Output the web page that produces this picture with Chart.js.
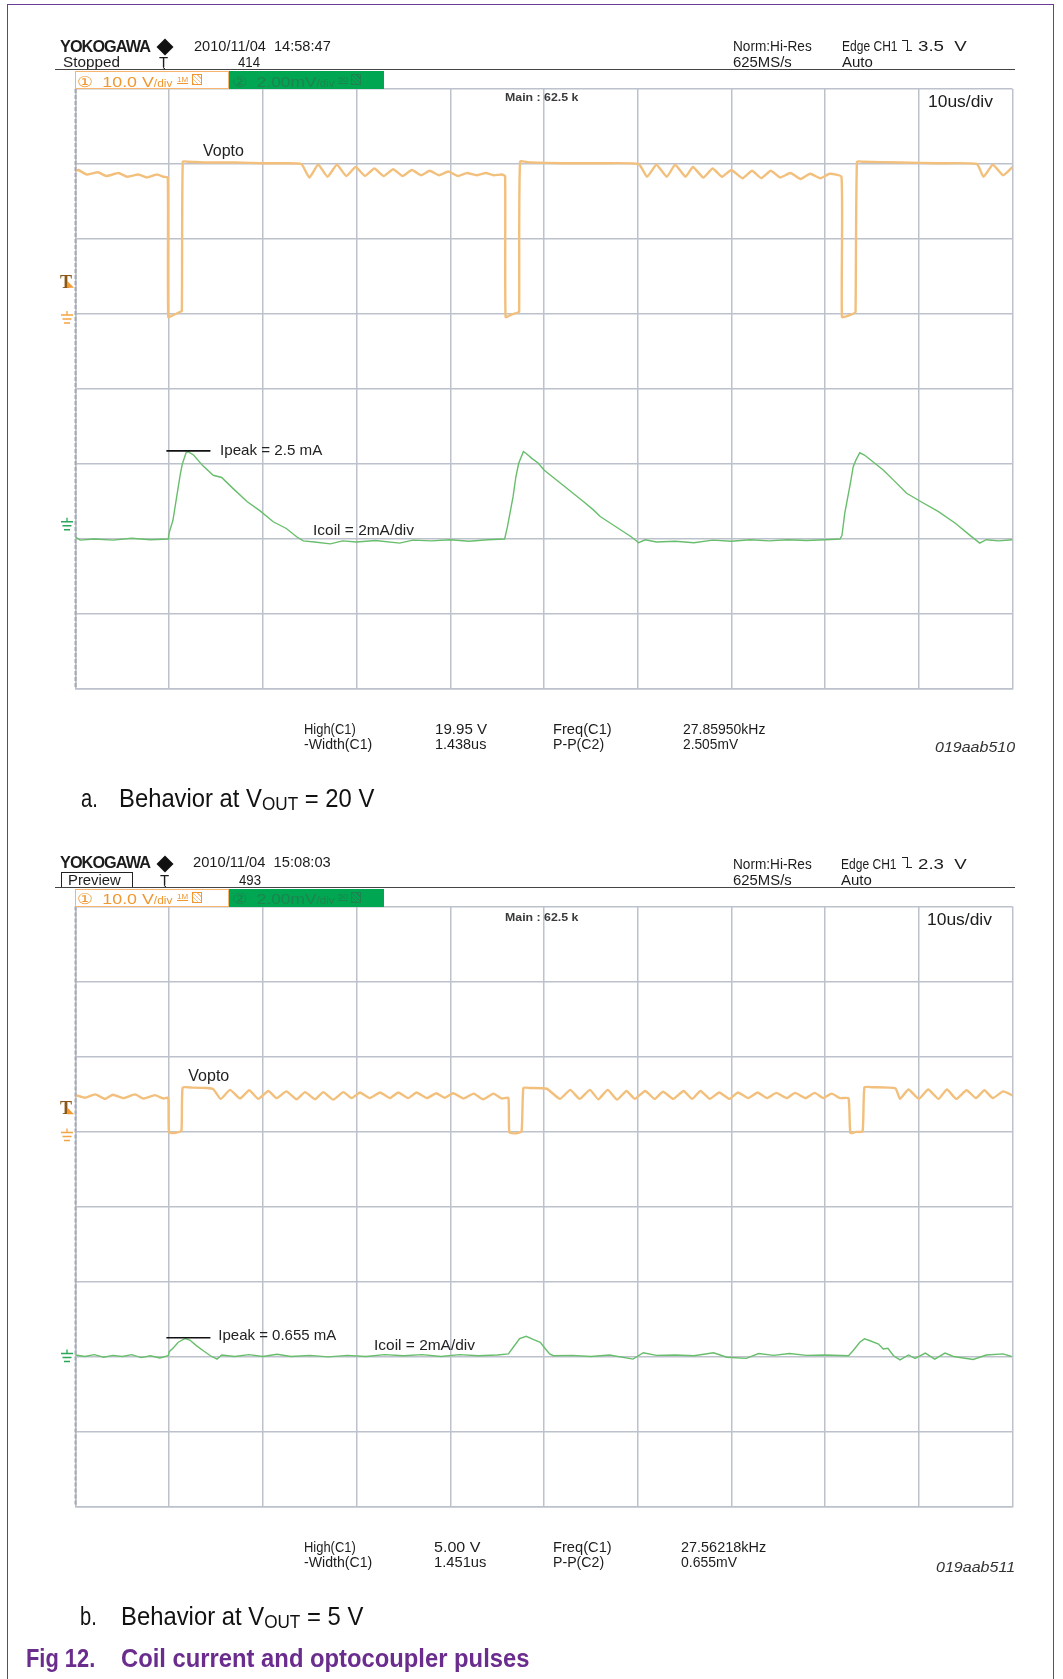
<!DOCTYPE html>
<html>
<head>
<meta charset="utf-8">
<script src="https://cdn.jsdelivr.net/npm/chart.js@4.4.1/dist/chart.umd.min.js"></script>
<style>
body { margin: 0; background: #fff; }
#page { position: relative; width: 1063px; height: 1679px; overflow: hidden; background: #fff;
        font-family: "Liberation Sans", Arial, sans-serif; }
#page canvas { position: absolute; left: 0; }
.t { position: absolute; white-space: nowrap; line-height: 1; transform-origin: 0 0; color: #1c1c1c; }
.b { font-weight: bold; letter-spacing: -1px; }
.main { font-weight: bold; color: #3a3a3a; }
.ann { color: #222; }
.ch1 { color: #f0972f; }
.ch2 { color: #1d8450; }
.id { font-style: italic; color: #333; }
.cap { color: #111; }
.fig { color: #6a2d8e; font-weight: bold; }
.box { position: absolute; box-sizing: border-box; }
</style>
</head>
<body>
<div id="page">
  <canvas id="scopeA" width="1063" height="640" style="top:70px"></canvas>
  <canvas id="scopeB" width="1063" height="640" style="top:888px"></canvas>
</div>
<script>
// time axis in us (10 us/div), CH1 in V, CH2 in mA
// ---- a. Vout = 20 V
const voptoA = [
  [0,19.1],[0.3,19.2],[1.2,18.6],[2.4,18.9],[3.3,18.4],[4.6,18.8],[5.5,18.3],[6.7,18.6],[7.6,18.2],[8.7,18.6],[9.4,18.3],[9.85,18.2],
  [9.9,-0.4],[10.5,-0.1],[11.2,0.3],[11.35,0.4],
  [11.45,20.3],[12,20.3],[14,20.2],[17,20.2],[20,20.1],[22,20.1],[24.1,20.0],
  [24.95,18.2],[25.9,19.9],[26.9,18.3],[27.9,19.9],[28.9,18.4],[29.9,19.6],[30.9,18.4],[31.9,19.4],[32.9,18.4],[33.9,19.3],
  [34.9,18.4],[35.9,19.2],[36.9,18.5],[37.8,19.1],[38.8,18.5],[39.8,19.0],[40.8,18.4],[41.8,18.8],[42.8,18.5],[43.8,18.8],
  [44.6,18.5],[45.5,18.6],[45.85,18.4],
  [45.9,-0.4],[46.5,-0.1],[47.2,0.2],[47.35,0.3],
  [47.45,20.3],[48.5,20.2],[52,20.1],[56,20.1],[60.1,20.0],
  [61,18.3],[62,19.9],[63.1,18.3],[64,19.9],[65.1,18.3],[65.9,19.6],[67,18.2],[68,19.4],[69,18.3],[70,19.2],[71.2,18.1],
  [72.2,19.1],[73.2,18.1],[74.2,19.1],[75.2,18.2],[76.3,18.8],[77.4,18.0],[78.4,18.7],[79.5,18.1],[80.5,18.7],[81.75,18.3],
  [81.8,-0.4],[82.5,-0.2],[83.1,0.1],[83.25,0.3],
  [83.4,20.3],[84,20.3],[88,20.2],[92,20.1],[96.2,20.0],
  [96.9,18.3],[97.9,19.9],[99,18.5],[100,19.6]
];
const coilA = [
  [0,0.05],[0.5,-0.03],[2,0.0],[4,-0.03],[6,0.02],[8,-0.02],[9.9,0.0],
  [10.0,0.17],[10.4,0.5],[10.8,1.13],[11.2,1.75],[11.4,2.0],[11.8,2.3],[12.0,2.33],[12.6,2.24],[13.6,1.95],[14.7,1.7],
  [15.6,1.64],[16.8,1.35],[18.3,1.0],[19.7,0.75],[21.1,0.46],[22.5,0.28],[23.6,0.06],[24.3,-0.05],[25.5,-0.08],[27.2,-0.13],
  [28.5,-0.05],[30,-0.08],[32,-0.04],[34.6,-0.11],[36,-0.03],[38,-0.05],[40,-0.02],[42,-0.06],[44,-0.02],[45.8,0.0],
  [46.1,0.33],[46.7,1.13],[47.0,1.66],[47.3,2.02],[47.8,2.33],[48.1,2.28],[48.7,2.15],[49.4,2.02],[50.0,1.84],[50.9,1.66],
  [52.0,1.44],[53.1,1.22],[54.2,1.0],[55.3,0.77],[56.0,0.6],[57.1,0.42],[58.2,0.24],[59.3,0.06],[60.1,-0.1],[60.8,-0.02],
  [62,-0.08],[64,-0.06],[66,-0.1],[68,-0.03],[70,-0.06],[72,-0.02],[74,-0.05],[76,-0.02],[78,-0.04],[80,-0.02],[81.6,0.0],
  [81.8,0.1],[82.1,0.69],[82.7,1.49],[83.0,1.93],[83.3,2.11],[83.7,2.3],[84.2,2.24],[85.1,2.06],[86.2,1.84],[87.3,1.57],
  [88.7,1.22],[90.2,1.0],[92.1,0.73],[93.9,0.42],[95.4,0.11],[96.5,-0.11],[97.2,-0.02],[98.5,-0.05],[100,-0.02]
];
// ---- b. Vout = 5 V
const voptoB = [
  [0,4.85],[1.0,4.5],[2.1,4.95],[3.15,4.35],[4.0,4.9],[5.1,4.45],[6.35,4.95],[7.24,4.4],[8.48,4.85],[9.37,4.4],[9.9,4.5],
  [9.98,-0.1],[10.6,-0.2],[11.3,0.1],
  [11.44,5.85],[12.5,5.85],[14.0,5.8],[14.7,5.65],
  [15.5,4.35],[16.5,5.55],[17.55,4.4],[18.55,5.5],[19.5,4.35],[20.58,5.4],[21.47,4.45],[22.5,5.35],[23.6,4.3],[24.5,5.25],
  [25.56,4.3],[26.45,5.25],[27.5,4.25],[28.58,5.25],[29.47,4.45],[30.36,5.2],[31.4,4.45],[32.5,5.2],[33.56,4.45],[34.45,5.2],
  [35.5,4.45],[36.4,5.2],[37.5,4.45],[38.5,5.1],[39.4,4.5],[40.3,5.1],[41.4,4.4],[42.5,5.05],[43.5,4.3],[44.6,5.05],
  [45.5,4.4],[46.2,4.5],
  [46.3,-0.1],[46.9,-0.25],[47.6,0.0],
  [47.8,5.8],[48.5,5.8],[50.3,5.7],
  [51.7,4.35],[52.8,5.55],[53.8,4.35],[54.9,5.55],[55.8,4.3],[56.8,5.55],[57.8,4.25],[58.8,5.4],[59.7,4.35],[60.8,5.4],
  [61.8,4.35],[62.7,5.3],[63.8,4.35],[64.9,5.4],[65.8,4.35],[66.7,5.4],[67.7,4.35],[68.7,5.2],[69.8,4.35],[70.7,5.2],
  [71.8,4.45],[72.8,5.2],[73.8,4.45],[74.8,5.15],[75.9,4.45],[76.8,5.15],[77.9,4.45],[78.9,5.15],[79.8,4.45],[80.7,5.05],
  [81.6,4.45],[82.5,4.45],
  [82.7,-0.2],[83.3,-0.05],[84.0,0.0],
  [84.2,5.9],[85,5.9],[87.5,5.75],
  [88.0,4.35],[88.9,5.6],[90.0,4.35],[91.0,5.6],[92.1,4.35],[93.0,5.6],[94.0,4.35],[95.1,5.5],[96.1,4.45],[97.0,5.5],
  [97.9,4.45],[99.0,5.35],[100,4.8]
];
const coilB = [
  [0,0.04],[1,0.0],[2,0.05],[3,-0.02],[4,0.03],[5,0.0],[6,0.05],[7,-0.03],[8,0.02],[9,-0.04],[9.9,0.02],
  [10.0,0.13],[10.4,0.22],[10.97,0.38],[11.7,0.48],[12.2,0.44],[12.9,0.29],[13.6,0.16],[14.4,0.02],[15.1,-0.07],[15.6,0.04],
  [17,0.0],[18.5,0.05],[20,0.0],[21.5,0.06],[23,0.0],[25,0.03],[27,-0.01],[29,0.03],[31,0.0],[33,0.05],[35,0.02],[37,0.05],
  [39,0.0],[41,0.05],[43,0.02],[45,0.04],[46.2,0.07],
  [46.7,0.24],[47.4,0.48],[48.1,0.54],[48.9,0.45],[49.6,0.38],[50.1,0.22],[50.6,0.07],[51.0,0.02],[53,0.03],[55,0.0],
  [57,0.04],[59.5,-0.07],[60.6,0.1],[62,0.03],[64,0.04],[66,0.02],[68.1,0.1],[69.5,-0.02],[71.6,-0.05],[72.9,0.08],
  [74.5,0.03],[76.2,0.08],[78,0.03],[80,0.04],[82.5,0.02],
  [83.0,0.16],[83.7,0.38],[84.2,0.47],[84.8,0.42],[85.7,0.33],[86.2,0.2],[86.7,0.22],[87.3,0.02],[88.0,-0.09],[88.9,0.04],
  [89.6,-0.05],[90.7,0.09],[91.7,-0.07],[92.8,0.09],[93.7,0.0],[95.8,-0.08],[97.2,0.04],[99.0,0.07],[99.9,0.0]
];
// trigger levels (V), CH2 ground marker (mA), Ipeak cursor level (mA) as shown on screen
const trigLevel = [3.5, 2.3];
const coilGround = [0.46, 0.08];
const ipeakCursor = [2.35, 0.5];

const gridCol = '#bcc1cc';

// markers drawn at the left of each screen
const scopeMarks = {
  id: 'scopeMarks',
  afterDraw(chart, args, o) {
    const c = chart.ctx, yv = chart.scales.yv, yi = chart.scales.yi, x = chart.scales.x;
    c.save();
    // trigger level
    const ty = yv.getPixelForValue(o.trig);
    c.fillStyle = '#8a5716';
    c.font = 'bold 18px "Liberation Serif"';
    c.fillText('T', 60, ty);
    c.fillStyle = '#f39a30';
    c.beginPath(); c.moveTo(67, ty - 7); c.lineTo(67, ty); c.lineTo(74, ty); c.closePath(); c.fill();
    // ground symbols
    const gnd = (y, col) => {
      c.strokeStyle = col; c.lineWidth = 1.3;
      c.beginPath();
      c.moveTo(67, y - 3); c.lineTo(67, y + 1);
      c.moveTo(61, y + 1); c.lineTo(73, y + 1);
      c.moveTo(62.5, y + 5); c.lineTo(71.5, y + 5);
      c.moveTo(64, y + 9); c.lineTo(70, y + 9);
      c.stroke();
    };
    gnd(yv.getPixelForValue(0), '#f4a443');
    gnd(yi.getPixelForValue(o.gnd) - 1, '#2aa85a');
    // Ipeak cursor line
    const py = yi.getPixelForValue(o.ipeak);
    c.strokeStyle = '#111'; c.lineWidth = 1.6;
    c.beginPath(); c.moveTo(x.getPixelForValue(9.7), py); c.lineTo(x.getPixelForValue(14.4), py); c.stroke();
    // left edge of the screen is drawn dashed
    c.strokeStyle = '#a3a8b3'; c.lineWidth = 2; c.setLineDash([4, 2]);
    c.beginPath(); c.moveTo(chart.chartArea.left, chart.chartArea.top); c.lineTo(chart.chartArea.left, chart.chartArea.bottom); c.stroke();
    c.restore();
  }
};

function pts(arr) { return arr.map(p => ({ x: p[0], y: p[1] })); }

function scope(id, vopto, coil, k, padTop, padBottom) {
  return new Chart(document.getElementById(id).getContext('2d'), {
    type: 'line',
    data: {
      datasets: [
        { data: pts(vopto), yAxisID: 'yv', borderColor: '#f2c07c', borderWidth: 2.4, pointRadius: 0, tension: 0.15 },
        { data: pts(coil), yAxisID: 'yi', borderColor: '#68be6c', borderWidth: 1.4, pointRadius: 0, tension: 0 }
      ]
    },
    options: {
      responsive: false,
      animation: false,
      events: [],
      layout: { padding: { left: 75.5, right: 50.5, top: padTop, bottom: padBottom } },
      plugins: {
        legend: { display: false },
        tooltip: { enabled: false },
        scopeMarks: { trig: trigLevel[k], gnd: coilGround[k], ipeak: ipeakCursor[k] }
      },
      scales: {
        x: {
          type: 'linear', min: 0, max: 100,
          ticks: { display: false, stepSize: 10 },
          grid: { color: gridCol, lineWidth: 1.5, drawTicks: false },
          border: { color: gridCol, width: 1.5 }
        },
        yv: {
          type: 'linear', position: 'left', min: -50, max: 30,
          ticks: { display: false, stepSize: 10 },
          grid: { color: gridCol, lineWidth: 1.5, drawTicks: false },
          border: { color: gridCol, width: 1.5 }
        },
        yi: { type: 'linear', position: 'right', min: -4, max: 12, display: false }
      }
    },
    plugins: [scopeMarks]
  });
}

scope('scopeA', voptoA, coilA, 0, 19, 21);
scope('scopeB', voptoB, coilB, 1, 18.5, 21.5);

// ---- text and screen furniture
const page = document.getElementById('page');
function put(html, x, base, size, w, cls) {
  const s = document.createElement('span');
  s.className = 't ' + (cls || '');
  s.innerHTML = html;
  s.style.fontSize = size + 'px';
  s.style.left = x + 'px';
  s.style.top = (base - 0.847 * size) + 'px';
  page.appendChild(s);
  if (w) s.style.transform = 'scaleX(' + (w / s.offsetWidth).toFixed(3) + ')';
  return s;
}
function box(x, y, w, h, css) {
  const d = document.createElement('div');
  d.className = 'box';
  d.style.cssText += 'left:' + x + 'px;top:' + y + 'px;width:' + w + 'px;height:' + h + 'px;' + css;
  page.appendChild(d);
  return d;
}
function diamond(cx, cy) {
  box(cx - 6, cy - 6, 12, 12, 'background:#111;transform:rotate(45deg);');
}
function edgeSym(x, y) {
  box(x, y, 5.5, 11, 'border-top:1.5px solid #222;border-right:1.5px solid #222;');
  box(x + 4, y + 10, 6, 2, 'border-top:1.5px solid #222;');
}
function chBoxes(y, base) {
  box(75, y, 154, 17.5, 'border:1.5px solid #f6b46e;background:#fff;');
  box(229, y, 155, 17.5, 'background:#00a651;');
  put('&#9312;&nbsp;&nbsp;10.0 V<span style="font-size:10px">/div</span>', 77, base, 15, 95, 'ch1');
  put('<u>1M</u>', 177, base - 4, 8, 11, 'ch1');
  box(192, y + 3, 10, 11, 'border:1.5px solid #f0972f;background:repeating-linear-gradient(45deg,#f7c48c 0 1px,#fff 1px 3px);');
  put('&#9313;&nbsp;&nbsp;2.00mV<span style="font-size:10px">/div</span>', 232, base, 15, 103, 'ch2');
  put('<u>50</u>', 338, base - 4, 8, 10, 'ch2');
  box(351, y + 3, 10, 11, 'border:1.5px solid #1d8450;background:repeating-linear-gradient(45deg,#1d8450 0 1px,#00a651 1px 3px);');
}

// page frame
box(7, 4, 1047, 1700, 'border:1.5px solid #6a3b97;');

// ---- header a
put('YOKOGAWA', 60, 52.7, 17, 90, 'b');
diamond(164.6, 47.2);
put('2010/11/04&nbsp;&nbsp;14:58:47', 194, 51, 15, 137);
put('Stopped', 63, 66.7, 15, 57);
put('&#354;', 159, 67, 15, 9);
put('414', 238, 66.7, 15, 22);
put('Norm:Hi-Res', 733.4, 51, 15, 79);
put('625MS/s', 733.4, 67, 15, 58.5);
put('Edge CH1', 842, 51, 15, 55.4);
edgeSym(902, 39.5);
put('3.5&nbsp;&nbsp;V', 918.4, 51, 15, 48.6);
put('Auto', 842, 67, 15, 31);
box(55, 68.5, 960, 1.5, 'background:#444;');
chBoxes(71, 86.5);
put('Main : 62.5 k', 505, 101.7, 11, 73, 'main');
put('10us/div', 928, 107.3, 17, 64.6);
put('Vopto', 203, 156.7, 16, 41, 'ann');
put('Ipeak = 2.5 mA', 220, 454.3, 15, 102, 'ann');
put('Icoil = 2mA/div', 313.3, 535, 15, 101, 'ann');
// measurements a
put('High(C1)', 304, 733.3, 15, 51.8);
put('-Width(C1)', 304, 748.3, 15, 68.8);
put('19.95 V', 434.6, 733.3, 15, 52.4);
put('1.438us', 434.6, 748.3, 15, 51);
put('Freq(C1)', 552.6, 733.3, 15, 58.7);
put('P-P(C2)', 552.6, 748.3, 15, 51);
put('27.85950kHz', 682.7, 733.3, 15, 82);
put('2.505mV', 682.7, 748.3, 15, 55);
put('019aab510', 935, 752.3, 14, 80, 'id');
put('a.', 81, 806.7, 26, 17, 'cap');
put('Behavior at V<span style="font-size:0.72em;position:relative;top:0.16em">OUT</span> = 20 V', 119, 806.7, 26, 255.6, 'cap');

// ---- header b
put('YOKOGAWA', 60, 868.3, 17, 90, 'b');
diamond(165.3, 863.7);
put('2010/11/04&nbsp;&nbsp;15:08:03', 193.4, 866.7, 15, 138);
box(61, 872.3, 72, 15.5, 'border:1px solid #222;');
put('Preview', 68.4, 885, 15, 52.4);
put('&#354;', 160, 885, 15, 9);
put('493', 238.9, 885, 15, 22);
put('Norm:Hi-Res', 733.2, 868.3, 15, 79);
put('625MS/s', 733.2, 885, 15, 58.5);
put('Edge CH1', 841, 868.3, 15, 55.4);
edgeSym(902, 857);
put('2.3&nbsp;&nbsp;V', 918.4, 868.3, 15, 48.6);
put('Auto', 841, 885, 15, 31);
box(55, 886.5, 960, 1.5, 'background:#444;');
chBoxes(889, 904);
put('Main : 62.5 k', 505, 921.7, 11, 73, 'main');
put('10us/div', 927, 925, 17, 64.6);
put('Vopto', 188.3, 1081.7, 16, 41, 'ann');
put('Ipeak = 0.655 mA', 218.3, 1339.3, 15, 118, 'ann');
put('Icoil = 2mA/div', 374, 1350, 15, 101, 'ann');
// measurements b
put('High(C1)', 303.7, 1551.7, 15, 51.8);
put('-Width(C1)', 303.7, 1566.7, 15, 68.8);
put('5.00 V', 433.9, 1551.7, 15, 46);
put('1.451us', 433.9, 1566.7, 15, 52);
put('Freq(C1)', 552.5, 1551.7, 15, 58.7);
put('P-P(C2)', 552.5, 1566.7, 15, 51);
put('27.56218kHz', 681.4, 1551.7, 15, 84.7);
put('0.655mV', 681.4, 1566.7, 15, 56);
put('019aab511', 935.6, 1571.7, 14, 79, 'id');
put('b.', 80, 1625, 26, 17, 'cap');
put('Behavior at V<span style="font-size:0.72em;position:relative;top:0.16em">OUT</span> = 5 V', 120.7, 1625, 26, 242, 'cap');

// figure caption
put('Fig 12.', 25.8, 1666.7, 26, 69, 'fig');
put('Coil current and optocoupler pulses', 120.7, 1666.7, 26, 408, 'fig');
</script>
</body>
</html>
